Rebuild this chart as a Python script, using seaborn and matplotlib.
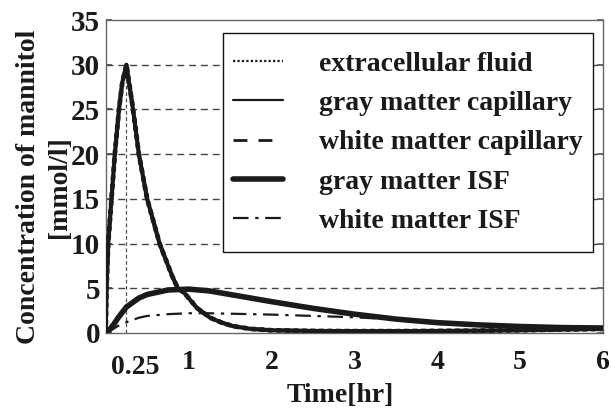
import numpy as np
import pandas as pd
import matplotlib
matplotlib.use("Agg")
import matplotlib.pyplot as plt
import matplotlib.transforms as mtransforms
from matplotlib.lines import Line2D
from matplotlib.patches import Rectangle
import seaborn as sns

# ---------------- data ----------------
t_cap = [0, 0.01, 0.03, 0.07, 0.11, 0.16, 0.2, 0.25, 0.29, 0.33, 0.4, 0.5, 0.65,
         0.8, 0.87, 0.95, 1.1, 1.26, 1.4, 1.54, 1.75, 2.0, 2.5, 3.0, 3.5, 4.0,
         4.5, 5.0, 5.5, 6.0]
extracellular_fluid = [0, 5, 10, 15, 20, 25, 28, 30, 27.5, 25, 20, 15, 10,
                       6.4, 5, 4.45, 2.8, 1.7, 1.15, 0.75, 0.45, 0.3, 0.22, 0.2,
                       0.2, 0.22, 0.25, 0.3, 0.38, 0.45]
gray_matter_capillary = [0, 5, 10, 15, 20, 25, 28, 30, 27.5, 25, 20, 15, 10,
                         6.4, 5, 4.45, 2.8, 1.7, 1.15, 0.75, 0.45, 0.3, 0.22, 0.2,
                         0.2, 0.22, 0.25, 0.3, 0.38, 0.45]
white_matter_capillary = [0, 5, 10, 15, 20, 25, 28, 30, 27.5, 25, 20, 15, 10,
                          6.4, 5, 4.45, 2.8, 1.7, 1.15, 0.75, 0.45, 0.3, 0.22, 0.2,
                          0.2, 0.22, 0.25, 0.3, 0.38, 0.45]

t_isf = [0, 0.05, 0.1, 0.15, 0.25, 0.4, 0.5, 0.75, 1.0, 1.25, 1.5, 2.0, 2.5,
         3.0, 3.5, 4.0, 4.5, 5.0, 5.5, 6.0]
gray_matter_isf = [0, 0.4, 1.0, 1.7, 2.9, 3.9, 4.3, 4.8, 4.9, 4.7, 4.3, 3.5,
                   2.75, 2.1, 1.55, 1.15, 0.9, 0.72, 0.6, 0.55]
white_matter_isf = [0, 0.2, 0.5, 0.8, 1.2, 1.7, 1.9, 2.1, 2.2, 2.2, 2.15, 2.05,
                    1.9, 1.75, 1.5, 1.12, 0.88, 0.7, 0.58, 0.53]

series_labels = ["extracellular fluid", "gray matter capillary",
                 "white matter capillary", "gray matter ISF", "white matter ISF"]
x_ticks = [0.25, 1, 2, 3, 4, 5, 6]
x_tick_labels = ["0.25", "1", "2", "3", "4", "5", "6"]
y_ticks = [0, 5, 10, 15, 20, 25, 30, 35]
infusion_end = 0.25
peak_value = 30

# ---------------- styling ----------------
sns.set_theme(style="white")
plt.rcParams["font.family"] = ["Liberation Serif", "DejaVu Serif"]
plt.rcParams["font.weight"] = "bold"

fig = plt.figure(figsize=(6.11, 4.09), dpi=100)
ax = fig.add_axes([0.173, 0.186, 0.814, 0.765])

ink = "#1a1a1a"
styles = [
    dict(linestyle=(0, (1, 0.8)), lw=3.4),          # extracellular fluid
    dict(linestyle="-", lw=3.0),                    # gray matter capillary
    dict(linestyle=(0, (5, 4)), lw=2.6),            # white matter capillary
    dict(linestyle="-", lw=4.0),                    # gray matter ISF
    dict(linestyle=(0, (7, 3, 1.5, 3)), lw=1.6),    # white matter ISF
]
legend_styles = [
    dict(linestyle=(0, (1, 1)), lw=1.6),
    dict(linestyle="-", lw=1.6),
    dict(linestyle=(0, (5, 4)), lw=2.0),
    dict(linestyle="-", lw=4.0),
    dict(linestyle=(0, (7, 3, 1.5, 3)), lw=1.6),
]
data = [
    (t_cap, gray_matter_capillary, 1),
    (t_cap, white_matter_capillary, 2),
    (t_cap, extracellular_fluid, 0),
    (t_isf, gray_matter_isf, 3),
    (t_isf, white_matter_isf, 4),
]

# grid lines
for yv in y_ticks[1:-1]:
    ax.axhline(yv, color="#444444", lw=1.0, linestyle=(0, (5, 3.5)), zorder=1)
ax.vlines(infusion_end, 0, peak_value, color="#555555", lw=0.9,
          linestyle=(0, (3, 2)), zorder=1)

for tx, ty, idx in data:
    df = pd.DataFrame({"t": tx, "c": ty})
    sns.lineplot(data=df, x="t", y="c", ax=ax, color=ink, sort=False,
                 errorbar=None, zorder=3, legend=False, **styles[idx])

leg_handles = [Line2D([], [], color=ink, **legend_styles[i]) for i in range(5)]
leg = ax.legend(leg_handles, series_labels, loc="upper left",
                bbox_to_anchor=(0.255, 0.900), frameon=False,
                fontsize=20, handlelength=1.8, handletextpad=1.33,
                labelspacing=0.5, borderpad=0, borderaxespad=0)
leg.set_zorder(6)
for txt in leg.get_texts():
    txt.set_fontweight("bold")
    txt.set_color(ink)

ax.set_xlim(0, 6)
ax.set_ylim(0, 35)
ax.set_xticks(x_ticks)
ax.set_xticklabels(x_tick_labels, fontsize=20, fontweight="bold", color=ink)
ax.set_yticks(y_ticks)
ax.set_yticklabels([str(v) for v in y_ticks], fontsize=21, fontweight="bold",
                   color=ink)
ax.tick_params(axis="y", which="both", left=True, right=True, direction="in",
               length=4, color="#555555", pad=4)
ax.tick_params(axis="x", which="both", bottom=False, pad=6)

# shift the 0.25 label down/right like in the original
lbl = ax.get_xticklabels()[0]
lbl.set_transform(lbl.get_transform() +
                  mtransforms.ScaledTranslation(6 / 72, -4 / 72,
                                                fig.dpi_scale_trans))

ax.set_xlabel("Time[hr]", fontsize=20, fontweight="bold", color=ink)
ax.xaxis.set_label_coords(0.471, -0.160)
ax.set_ylabel("Concentration of mannitol\n[mmol/l]", fontsize=20,
              fontweight="bold", color=ink, linespacing=1.32)
ax.yaxis.set_label_coords(-0.068, 0.466)

for sp in ax.spines.values():
    sp.set_color("#666666")
    sp.set_linewidth(1.0)

# legend frame with separate horizontal / vertical padding
fig.canvas.draw()
bb = leg.get_window_extent()
pad_x, pad_y = 10, 18
frame_bb = mtransforms.Bbox.from_extents(bb.x0 - pad_x, bb.y0 - pad_y,
                                         bb.x1 + pad_x, bb.y1 + pad_y)
frame_ax = frame_bb.transformed(ax.transAxes.inverted())
ax.add_patch(Rectangle((frame_ax.x0, frame_ax.y0), frame_ax.width,
                       frame_ax.height, transform=ax.transAxes,
                       facecolor="white", edgecolor="#111111", lw=1.0,
                       zorder=5))

fig.savefig("out.png", dpi=100, facecolor="white")
